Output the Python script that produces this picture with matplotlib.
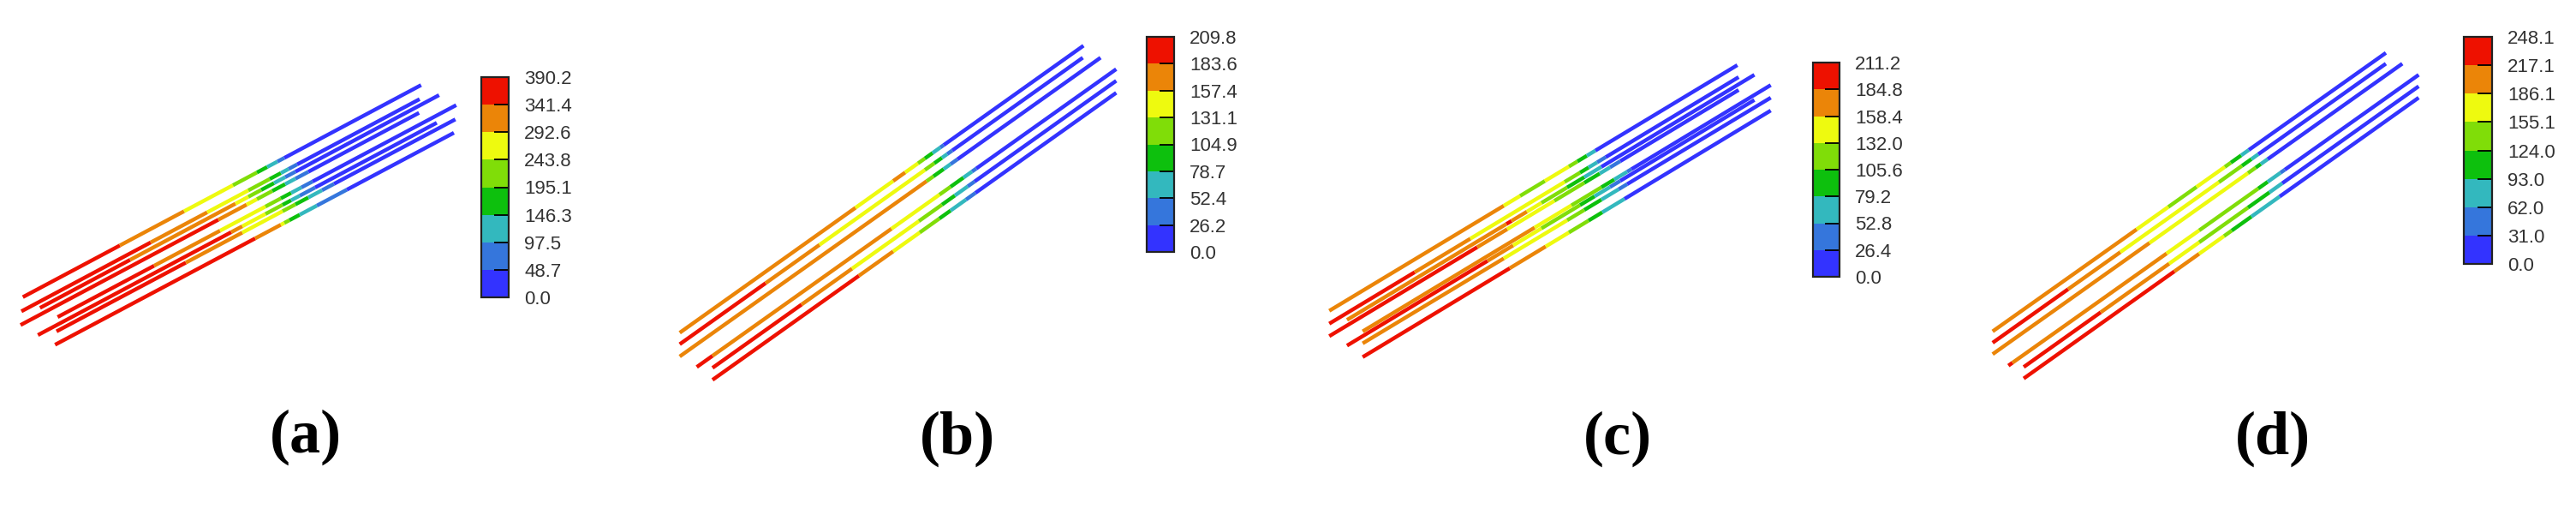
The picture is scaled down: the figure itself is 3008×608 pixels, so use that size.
import matplotlib
matplotlib.use("Agg")
import matplotlib.pyplot as plt
import numpy as np
from matplotlib.collections import LineCollection
from matplotlib.colors import ListedColormap, BoundaryNorm
import matplotlib.colorbar as mcbar

# ---------------- data ----------------
band_colors = ["#3333FF", "#3576DC", "#33B8BE", "#0DC00D",
               "#80DD08", "#EEFA0F", "#EB8508", "#EE1100"]

levels_a = [0.0, 48.7, 97.5, 146.3, 195.1, 243.8, 292.6, 341.4, 390.2]
levels_b = [0.0, 26.2, 52.4, 78.7, 104.9, 131.1, 157.4, 183.6, 209.8]
levels_c = [0.0, 26.4, 52.8, 79.2, 105.6, 132.0, 158.4, 184.8, 211.2]
levels_d = [0.0, 31.0, 62.0, 93.0, 124.0, 155.1, 186.1, 217.1, 248.1]

panel_labels = ["(a)", "(b)", "(c)", "(d)"]

# tube end points (drawing units) and colour-band changes along each tube
a_x0 = [26.7, 25.0, 46.7, 24.0, 67.3, 44.3, 66.0, 64.3]
a_y0 = [346.7, 363.3, 359.3, 379.3, 370.0, 391.0, 386.7, 402.3]
a_x1 = [491.7, 490.0, 512.7, 489.3, 532.7, 510.0, 531.7, 530.0]
a_y1 = [99.3, 115.7, 111.0, 131.7, 122.7, 143.3, 139.3, 155.0]
a_bands = [[7, 6, 5, 4, 3, 2, 1, 0]] * 8
a_breaks = [
    [140, 215, 272, 300, 312, 324, 332],
    [176, 242, 290, 315, 328, 337, 347],
    [152, 275, 290, 305, 320, 333, 345],
    [255, 288, 300, 318, 333, 345, 360],
    [180, 257, 310, 328, 340, 352, 365],
    [270, 283, 310, 330, 340, 350, 368],
    [217, 283, 330, 345, 360, 376, 390],
    [298, 328, 332, 338, 350, 370, 405],
]

b_x0 = [793.7, 793.7, 793.7, 813.6, 832.0, 832.0]
b_y0 = [388.3, 401.7, 416.0, 428.3, 429.3, 443.3]
b_x1 = [1265.2, 1264.4, 1285.1, 1303.4, 1303.4, 1303.4]
b_y1 = [53.3, 67.3, 67.3, 80.7, 94.3, 108.3]
b_bands = [
    [6, 5, 6, 5, 4, 3, 2, 1, 0],
    [7, 6, 5, 4, 3, 2, 1, 0],
    [6, 4, 3, 2, 1, 0],
    [7, 6, 5, 4, 3, 2, 1, 0],
    [7, 6, 5, 4, 3, 2, 1, 0],
    [7, 6, 5, 4, 3, 2, 1, 0],
]
b_breaks = [
    [999, 1043, 1057, 1072, 1080, 1089, 1098, 1102],
    [894, 957, 1080, 1091, 1100, 1106, 1112],
    [1082, 1090, 1102, 1110, 1118],
    [832, 1041, 1097, 1110, 1125, 1135, 1140],
    [936, 995, 1073, 1100, 1115, 1130, 1138],
    [1003, 1043, 1074, 1097, 1110, 1128, 1139],
]

c_x0 = [1552.2, 1552.2, 1572.9, 1552.2, 1591.2, 1572.9, 1591.2, 1591.2]
c_y0 = [362.7, 377.7, 373.3, 392.3, 386.7, 403.3, 400.7, 416.7]
c_x1 = [2028.7, 2030.2, 2048.6, 2030.2, 2067.7, 2048.6, 2067.7, 2067.7]
c_y1 = [76.0, 90.0, 87.3, 105.0, 99.3, 116.7, 114.0, 129.0]
c_bands = [
    [6, 5, 4, 5, 4, 3, 2, 0],
    [7, 6, 5, 4, 3, 2, 1, 0],
    [6, 7, 6, 5, 4, 3, 2, 0],
    [7, 6, 5, 4, 3, 2, 1, 0],
    [6, 5, 4, 3, 2, 1, 0],
    [7, 6, 5, 4, 3, 2, 1, 0],
    [6, 5, 4, 3, 2, 1, 0],
    [7, 6, 5, 4, 3, 2, 0],
]
c_breaks = [
    [1756, 1775, 1804, 1832, 1842, 1853, 1863],
    [1652, 1717, 1827, 1845, 1855, 1865, 1875],
    [1759, 1765, 1783, 1800, 1830, 1850, 1870],
    [1725, 1760, 1815, 1850, 1868, 1880, 1892],
    [1792, 1835, 1870, 1885, 1900, 1905],
    [1737, 1767, 1800, 1845, 1862, 1880, 1892],
    [1756, 1830, 1850, 1870, 1890, 1900],
    [1763, 1805, 1832, 1855, 1871, 1897],
]

d_x0 = [2326.8, 2326.8, 2326.8, 2345.2, 2363.1, 2363.1]
d_y0 = [386.7, 400.0, 413.3, 426.7, 428.3, 441.7]
d_x1 = [2786.0, 2786.0, 2805.2, 2824.3, 2824.3, 2824.3]
d_y1 = [61.7, 74.3, 74.3, 87.3, 100.7, 114.0]
d_bands = [
    [6, 5, 4, 5, 4, 3, 2, 0],
    [7, 6, 5, 4, 3, 2, 0],
    [6, 5, 4, 3, 2, 0],
    [7, 6, 5, 4, 3, 2, 1, 0],
    [7, 6, 5, 4, 3, 2, 0],
    [7, 6, 5, 4, 3, 2, 0],
]
d_breaks = [
    [2495, 2532, 2565, 2598, 2605, 2617, 2626],
    [2415, 2476, 2591, 2618, 2629, 2637],
    [2510, 2625, 2634, 2640, 2648],
    [2350, 2530, 2568, 2637, 2648, 2663, 2668],
    [2453, 2533, 2568, 2625, 2650, 2665],
    [2539, 2568, 2597, 2606, 2629, 2662],
]

# ---------------- layout ----------------
W, H = 3008, 608
fig = plt.figure(figsize=(W / 100, H / 100), dpi=100)
fig.patch.set_facecolor("white")

ax = fig.add_axes([0, 0, 1, 1])
ax.set_xlim(0, W)
ax.set_ylim(H, 0)
ax.axis("off")

cmap = ListedColormap(band_colors)

panels = [
    (levels_a, a_x0, a_y0, a_x1, a_y1, a_bands, a_breaks),
    (levels_b, b_x0, b_y0, b_x1, b_y1, b_bands, b_breaks),
    (levels_c, c_x0, c_y0, c_x1, c_y1, c_bands, c_breaks),
    (levels_d, d_x0, d_y0, d_x1, d_y1, d_bands, d_breaks),
]

# colorbar boxes in pixels: left, top, width, height
cbar_boxes = [(562, 90, 32, 257), (1339, 43, 32, 251),
              (2117, 73, 31, 250), (2877, 43, 33, 265)]
label_centers = [(357, 510), (1118, 512), (1889, 512), (2654, 512)]

for (levels, x0, y0, x1, y1, bands, breaks), box, lab, lc in zip(
        panels, cbar_boxes, panel_labels, label_centers):
    norm = BoundaryNorm(levels, cmap.N)
    mids = [(levels[k] + levels[k + 1]) / 2 for k in range(len(levels) - 1)]
    segs, vals = [], []
    for i in range(len(x0)):
        xs = [x0[i]] + list(breaks[i]) + [x1[i]]
        slope = (y1[i] - y0[i]) / (x1[i] - x0[i])
        for j in range(len(xs) - 1):
            xa, xb = xs[j], xs[j + 1]
            segs.append([(xa, y0[i] + (xa - x0[i]) * slope),
                         (xb, y0[i] + (xb - x0[i]) * slope)])
            vals.append(mids[bands[i][j]])
    lcoll = LineCollection(segs, cmap=cmap, norm=norm, linewidths=3.2,
                           capstyle="butt")
    lcoll.set_array(np.array(vals))
    ax.add_collection(lcoll)

    l, t, w, h = box
    cax = fig.add_axes([l / W, 1 - (t + h) / H, w / W, h / H])
    cb = mcbar.ColorbarBase(cax, cmap=cmap, norm=norm, boundaries=levels,
                            ticks=levels, spacing="uniform",
                            orientation="vertical")
    cb.outline.set_edgecolor("#222222")
    cb.outline.set_linewidth(1.6)
    cb.ax.set_yticklabels([f"{v:.1f}" for v in levels])
    cb.ax.tick_params(axis="y", direction="in", length=12, width=1.3,
                      color="black", pad=13, labelsize=16,
                      labelcolor="#333333")
    for tl in cb.ax.get_yticklabels():
        tl.set_family("Liberation Sans")

    fig.text(lc[0] / W, 1 - lc[1] / H, lab, ha="center", va="center",
             fontsize=52, fontweight="bold", family="Liberation Serif")

fig.savefig("out.png", dpi=100, facecolor="white")
